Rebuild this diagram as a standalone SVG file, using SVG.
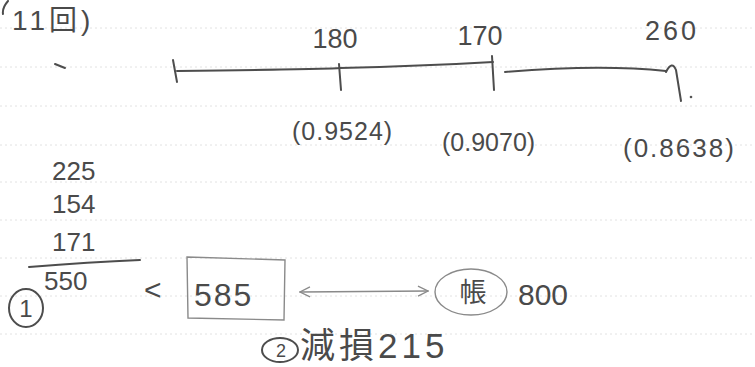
<svg xmlns="http://www.w3.org/2000/svg" width="755" height="367" viewBox="0 0 755 367">
<defs>
<style>
.t{font-family:"Liberation Sans","Noto Sans CJK JP",sans-serif;fill:#4a4a4a}
.s{fill:none;stroke:#4d4d4d;stroke-width:2;stroke-linecap:round;stroke-linejoin:round}
.l{fill:none;stroke:#8a8a8a;stroke-width:1.4;stroke-linecap:round}
.g{stroke:#e2e2e2;stroke-width:1;stroke-dasharray:2 3}
</style>
<marker id="ah" viewBox="0 0 12 12" refX="11" refY="6" markerWidth="12" markerHeight="12" markerUnits="userSpaceOnUse" orient="auto-start-reverse">
<path d="M1,1 L11,6 L1,11" fill="none" stroke="#8a8a8a" stroke-width="1.3"/>
</marker>
</defs>
<rect width="755" height="367" fill="#fff"/>
<g id="grid">
<line class="g" x1="0" y1="28" x2="755" y2="28"/>
<line class="g" x1="0" y1="67" x2="755" y2="67"/>
<line class="g" x1="0" y1="106" x2="755" y2="106"/>
<line class="g" x1="0" y1="145" x2="755" y2="145"/>
<line class="g" x1="0" y1="182" x2="755" y2="182"/>
<line class="g" x1="0" y1="220" x2="755" y2="220"/>
<line class="g" x1="0" y1="258" x2="755" y2="258"/>
<line class="g" x1="0" y1="296" x2="755" y2="296"/>
<line class="g" x1="0" y1="334" x2="755" y2="334"/>
</g>
<g id="title">
<path class="s" d="M8,1 Q2,8 3,14"/>
<text class="t" x="12" y="30" font-size="28" letter-spacing="4">11回)</text>
<path class="s" d="M55,64 L65,68" stroke-width="1.5"/>
</g>
<g id="connectors">
<path class="s" d="M177,71 Q330,69 340,68 Q420,66 493,62"/>
<path class="s" d="M505,72 Q600,64 666,71"/>
<path class="l" d="M300,292 L428,291" marker-start="url(#ah)" marker-end="url(#ah)"/>
</g>
<g id="ticks">
<path class="s" d="M173,60 L177,82"/>
<path class="s" d="M339,64 L341,90"/>
<path class="s" d="M492,56 L494,90"/>
<path class="s" d="M666,72 Q672,60 676,70 L681,101"/>
<circle cx="691" cy="97" r="1.3" fill="#555"/>
</g>
<g id="n180"><text class="t" x="335" y="48" font-size="27" text-anchor="middle">180</text></g>
<g id="n170"><text class="t" x="480" y="45" font-size="27" text-anchor="middle">170</text></g>
<g id="n260"><text class="t" x="672" y="40" font-size="27" text-anchor="middle" letter-spacing="3">260</text></g>
<g id="r1"><text class="t" x="292" y="140" font-size="25" letter-spacing="1">(0.9524)</text></g>
<g id="r2"><text class="t" x="442" y="151" font-size="25">(0.9070)</text></g>
<g id="r3"><text class="t" x="623" y="157" font-size="26" letter-spacing="2">(0.8638)</text></g>
<g id="sum">
<text class="t" x="52" y="180" font-size="26">225</text>
<text class="t" x="52" y="213" font-size="26">154</text>
<text class="t" x="52" y="251" font-size="26">171</text>
<path class="s" d="M29,267 Q90,262 140,260"/>
</g>
<g id="step1">
<ellipse class="s" cx="26" cy="308" rx="17" ry="19"/>
<text class="t" x="26" y="317" font-size="24" text-anchor="middle">1</text>
<text class="t" x="44" y="290" font-size="26">550</text>
<text class="t" x="144" y="300" font-size="30">&lt;</text>
</g>
<g id="box585">
<path class="l" d="M187,257 L285,260 L284,320 L188,318 Z" stroke="#777"/>
<text class="t" x="194" y="306" font-size="32" letter-spacing="2">585</text>
</g>
<g id="ledger">
<ellipse class="l" cx="471" cy="292" rx="36" ry="23" stroke="#666"/>
<text class="t" x="473" y="302" font-size="27" text-anchor="middle">帳</text>
<text class="t" x="518" y="305" font-size="30">800</text>
</g>
<g id="step2">
<ellipse class="s" cx="280" cy="350" rx="18" ry="12"/>
<text class="t" x="281" y="357" font-size="18" text-anchor="middle">2</text>
<text class="t" x="300" y="358" font-size="35" letter-spacing="4">減損215</text>
</g>
</svg>
